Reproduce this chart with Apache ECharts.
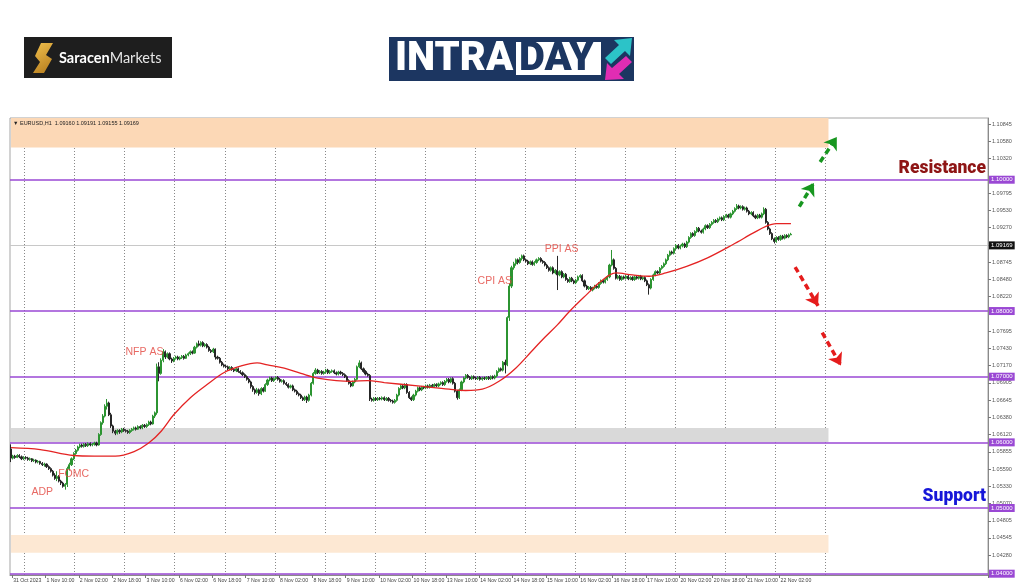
<!DOCTYPE html>
<html><head><meta charset="utf-8">
<script src="https://cdn.jsdelivr.net/npm/echarts@6/dist/echarts.min.js"></script>
<style>html,body{margin:0;padding:0;background:#fff}#c{width:1024px;height:587px}</style>
</head><body><div id="c"></div><script>
// ---------------- DATA ----------------
const headerText = '\u25BC EURUSD,H1  1.09160 1.09191 1.09155 1.09169';
const xTickLabels = ['31 Oct 2023','1 Nov 10:00','2 Nov 02:00','2 Nov 18:00','3 Nov 10:00','6 Nov 02:00','6 Nov 18:00','7 Nov 10:00','8 Nov 02:00','8 Nov 18:00','9 Nov 10:00','10 Nov 02:00','10 Nov 18:00','13 Nov 10:00','14 Nov 02:00','14 Nov 18:00','15 Nov 10:00','16 Nov 02:00','16 Nov 18:00','17 Nov 10:00','20 Nov 02:00','20 Nov 18:00','21 Nov 10:00','22 Nov 02:00'];
const yTickLabels = [1.10845,1.10580,1.10320,1.09795,1.09530,1.09270,1.09005,1.08745,1.08480,1.08220,1.07695,1.07430,1.07170,1.06905,1.06645,1.06380,1.06120,1.05855,1.05590,1.05330,1.05070,1.04805,1.04545,1.04280];
const levelLines = [1.10000,1.08000,1.07000,1.06000,1.05000,1.04000];
const lastPrice = 1.09169;
const resistanceLevel = 1.10000, supportLevel = 1.05000;
// hourly bars: [open, close, low, high] in pips above 1.0000
const barsPips = [
[590,576,570,597],[576,579,574,581],[579,577,575,581],[577,580,576,582],[580,578,576,582],[578,575,573,580],[575,577,573,579],[577,576,574,579],
[576,574,572,578],[574,575,572,577],[575,572,570,576],[572,573,570,575],[573,570,568,574],[570,571,568,573],[571,568,566,572],[568,566,564,570],
[566,567,563,569],[567,563,561,568],[563,560,558,565],[560,556,554,562],[556,550,548,558],[550,545,543,553],[545,548,541,556],[548,541,539,550],
[541,538,535,543],[538,533,531,540],[533,536,528,538],[536,560,532,563],[560,566,557,569],[566,575,564,577],[575,583,573,585],[583,588,581,590],
[588,593,586,595],[593,596,591,598],[596,594,592,598],[594,597,592,599],[597,595,593,599],[595,598,593,600],[598,596,594,600],[596,597,594,599],
[597,599,595,601],[599,596,594,601],[596,612,595,614],[612,630,610,632],[630,640,627,643],[640,655,638,658],[655,660,650,666],[660,642,640,662],
[642,625,622,645],[625,617,614,627],[617,614,611,619],[614,618,612,620],[618,616,613,620],[616,620,614,622],[620,618,616,622],[618,617,615,620],
[617,615,613,619],[615,618,613,620],[618,620,616,622],[620,622,618,624],[622,620,618,624],[620,624,619,626],[624,622,620,626],[622,626,620,628],
[626,624,622,628],[624,627,622,629],[627,631,625,633],[631,628,626,633],[628,640,627,642],[640,645,637,647],[645,715,642,720],[715,705,693,722],
[705,725,703,728],[725,738,722,742],[738,730,727,740],[730,735,728,737],[735,727,725,737],[727,724,721,729],[724,728,722,730],[728,730,726,732],
[730,727,725,732],[727,729,725,731],[729,731,727,733],[731,728,726,733],[728,733,727,735],[733,735,731,737],[735,738,733,740],[738,736,734,740],
[736,745,735,747],[745,750,743,752],[750,748,746,755],[748,752,746,754],[752,747,745,754],[747,749,745,751],[749,745,743,751],[745,740,738,747],
[740,738,736,742],[738,742,736,744],[742,730,726,743],[730,728,726,732],[728,722,720,730],[722,718,716,724],[718,716,714,720],[716,715,713,718],
[715,712,710,717],[712,714,710,716],[714,711,709,716],[711,709,707,713],[709,712,707,714],[712,708,706,714],[708,706,704,710],[706,703,701,708],
[703,700,698,705],[700,696,694,702],[696,692,690,698],[692,685,682,694],[685,680,677,687],[680,676,673,682],[676,680,674,683],[680,674,671,682],
[674,682,672,684],[682,678,676,684],[678,688,677,690],[688,695,686,697],[695,698,693,700],[698,694,692,700],[694,697,692,699],[697,699,695,701],
[699,696,694,701],[696,693,691,698],[693,694,691,696],[694,690,688,696],[690,688,686,692],[688,684,682,690],[684,686,682,688],[686,680,678,688],
[680,678,676,682],[678,674,672,680],[674,672,670,676],[672,668,666,674],[668,665,663,670],[665,669,663,671],[669,664,660,671],[664,672,662,674],
[672,690,670,692],[690,705,688,707],[705,710,703,713],[710,706,704,712],[706,708,704,710],[708,705,703,710],[705,707,703,709],[707,710,705,712],
[710,706,704,712],[706,708,704,710],[708,709,706,711],[709,706,704,711],[706,704,702,708],[704,707,702,709],[707,705,703,709],[705,703,701,707],
[703,700,698,705],[700,694,692,702],[694,690,688,696],[690,686,684,692],[686,692,685,694],[692,696,690,698],[696,715,694,717],[715,721,713,725],
[721,712,710,723],[712,708,706,714],[708,704,702,710],[704,702,700,706],[702,666,663,704],[666,664,662,668],[664,667,662,669],[667,665,663,669],
[665,667,663,669],[667,666,664,669],[666,668,664,670],[668,665,663,670],[665,667,663,669],[667,664,662,669],[664,663,661,666],[663,661,659,665],
[661,664,659,666],[664,672,662,674],[672,682,670,684],[682,686,680,688],[686,683,681,688],[683,688,681,690],[688,676,674,690],[676,668,666,678],
[668,665,663,670],[665,672,663,674],[672,678,670,680],[678,683,676,685],[683,680,678,685],[680,684,678,686],[684,683,681,686],[683,686,681,688],
[686,684,682,688],[684,687,682,689],[687,685,683,689],[685,688,683,690],[688,686,684,690],[686,689,684,691],[689,691,687,693],[691,688,686,693],
[688,693,686,695],[693,696,691,698],[696,692,690,698],[692,697,690,699],[697,690,688,699],[690,678,676,692],[678,668,665,680],[668,680,666,682],
[680,692,678,694],[692,698,690,700],[698,702,696,704],[702,699,697,704],[699,697,695,701],[697,700,695,702],[700,698,696,702],[698,697,695,700],
[697,699,695,701],[699,696,694,701],[696,698,694,700],[698,697,695,700],[697,699,695,701],[699,697,695,701],[697,700,695,702],[700,698,696,702],
[698,701,696,703],[701,708,699,710],[708,712,706,714],[712,710,708,714],[710,722,708,724],[722,718,705,726],[718,790,716,792],[790,838,785,842],
[838,866,835,869],[866,872,863,875],[872,878,869,880],[878,874,871,880],[874,880,872,882],[880,884,877,886],[884,878,876,886],[878,876,874,880],
[876,872,870,878],[872,875,870,877],[875,871,869,877],[871,874,869,876],[874,878,872,880],[878,880,876,882],[880,876,874,882],[876,874,872,878],
[874,870,868,876],[870,866,864,872],[866,862,860,868],[862,866,860,868],[866,858,856,868],[858,862,856,864],[862,855,832,884],[855,860,853,862],
[860,852,850,862],[852,856,850,858],[856,848,846,858],[848,845,843,850],[845,850,843,852],[850,846,844,852],[846,843,841,848],[843,847,841,849],
[847,852,845,854],[852,854,850,856],[854,846,844,856],[846,838,836,848],[838,834,832,840],[834,836,832,838],[836,832,830,838],[832,835,830,837],
[835,838,833,840],[838,836,834,840],[836,842,834,844],[842,846,840,848],[846,844,842,848],[844,848,842,850],[848,852,846,854],[852,870,850,872],
[870,878,868,893],[878,865,863,880],[865,850,848,867],[850,853,848,855],[853,848,846,855],[848,852,846,854],[852,850,848,854],[850,853,848,855],
[853,849,847,855],[849,851,847,853],[851,848,846,853],[848,852,846,854],[852,850,848,854],[850,853,848,855],[853,849,847,855],[849,851,847,853],
[851,846,844,853],[846,840,838,848],[840,835,825,842],[835,848,833,850],[848,855,846,857],[855,860,853,862],[860,858,856,862],[858,865,856,867],
[865,868,863,870],[868,872,866,874],[872,878,870,880],[878,885,876,887],[885,890,883,892],[890,888,886,892],[888,895,886,897],[895,900,893,902],
[900,896,894,902],[896,899,894,901],[899,902,897,904],[902,898,896,904],[898,905,896,907],[905,912,903,914],[912,918,910,920],[918,915,913,920],
[915,921,913,923],[921,926,919,928],[926,922,920,928],[922,920,918,924],[920,925,918,927],[925,930,923,932],[930,927,925,932],[927,932,925,934],
[932,935,930,937],[935,938,933,940],[938,936,934,940],[936,940,934,942],[940,942,938,944],[942,939,937,944],[939,944,937,946],[944,946,942,948],
[946,943,941,948],[943,948,941,950],[948,952,946,954],[952,956,950,958],[956,960,954,963],[960,957,955,962],[957,959,955,961],[959,955,953,961],
[955,957,953,959],[957,952,950,959],[952,948,946,954],[948,950,946,952],[950,945,943,952],[945,942,940,947],[942,946,940,948],[946,943,941,948],
[943,948,941,950],[948,955,946,958],[955,935,933,957],[935,925,923,937],[925,918,916,927],[918,910,908,920],[910,906,903,912],[906,912,904,914],
[912,909,907,914],[909,914,907,916],[914,911,909,916],[911,915,909,917],[915,913,911,917],[913,916,911,918],[916.0,916.9,915.5,919.1]
];
// moving average: [bar index, pips]
const maPoints = [[0,592],[14,589],[30,580],[40,579],[50,579],[59,586],[66,599],[72,617],[78,642],[86,668],[94,688],[102,706],[110,716],[118,721],[123,718],[131,713],[139,705],[147,698],[163,693],[171,694],[179,691],[195,686],[210,681],[218,679],[226,681],[234,693],[242,713],[250,740],[256,760],[262,779],[268,800],[276,825],[282,843],[290,858],[298,855],[306,853],[314,858],[324,868],[334,881],[346,901],[356,919],[362,929],[367,933],[374,933]];
const eventLabels = ['ADP','FOMC','NFP AS','CPI AS','PPI AS'];
const eventBars   = [15,30,64,232,264];
const eventPips   = [525,552,738,845,895];
// shaded zones [lowPips, highPips, colour]
const zones = [[1049,1094,'#fcd8b6'],[600,622,'#d9d9d9'],[432,459,'#fde8d3']];
const zoneEndBar = 392;
const arrowsUp   = [[[378,959],[385,995]],[[388,1027],[396,1065]]];
const arrowsDown = [[[376,867],[387,808]],[[389,767],[398,717]]];
const totalSlots = 469;
const yMin = 1.0398, yMax = 1.1094;

// ---------------- CHART ----------------
const P = p => +(1 + p / 10000).toFixed(5);
const cats = Array.from({length: totalSlots}, (_, i) => String(i));
const bars = barsPips.map(b => b.map(P));
const labelAt = i => i >= 1 && (i - 1) % 16 === 0 && (i - 1) / 16 < xTickLabels.length;
const purple = '#9a48d4';
const FONT = 'Liberation Sans';

const levelMarks = levelLines.map(v => ({
  yAxis: v,
  lineStyle: {color: purple, width: 1.6, type: 'solid'},
  label: {show: true, position: 'end', distance: 1, formatter: v.toFixed(5), color: '#fff', backgroundColor: purple,
          fontSize: 6, fontFamily: FONT, padding: [1, 2, 1, 2]}
}));
levelMarks.push({
  yAxis: lastPrice, lineStyle: {color: '#c8c8c8', width: 1, type: 'solid'},
  label: {show: true, position: 'end', distance: 1, formatter: lastPrice.toFixed(5), color: '#fff', backgroundColor: '#111',
          fontSize: 6, fontFamily: FONT, padding: [1, 2, 1, 2]}
});
levelMarks.push({
  yAxis: resistanceLevel, lineStyle: {color: 'rgba(0,0,0,0)', width: 0},
  label: {show: true, position: 'insideEndTop', distance: 2, formatter: 'Resistance', color: '#8e1515',
          fontSize: 17.5, fontWeight: 900, fontFamily: 'Roboto'}
});
levelMarks.push({
  yAxis: supportLevel, lineStyle: {color: 'rgba(0,0,0,0)', width: 0},
  label: {show: true, position: 'insideEndTop', distance: 2, formatter: 'Support', color: '#1616d8',
          fontSize: 17.5, fontWeight: 900, fontFamily: 'Roboto'}
});

const arrowMarks = [];
arrowsUp.forEach(a => arrowMarks.push([{coord: [a[0][0], P(a[0][1])], lineStyle: {color: '#17961f', width: 3.5, type: [6, 4]}, itemStyle: {color: '#17961f'}}, {coord: [a[1][0], P(a[1][1])]}]));
arrowsDown.forEach(a => arrowMarks.push([{coord: [a[0][0], P(a[0][1])], lineStyle: {color: '#e51c1c', width: 3.5, type: [6, 4]}, itemStyle: {color: '#e51c1c'}}, {coord: [a[1][0], P(a[1][1])]}]));

const chart = echarts.init(document.getElementById('c'), null, {renderer: 'canvas'});
chart.setOption({
  animation: false,
  backgroundColor: '#fff',
  grid: {left: 10, right: 36, top: 118, bottom: 12, show: true, borderColor: '#a5a5a5', borderWidth: 1, backgroundColor: '#fff'},
  xAxis: {
    type: 'category', data: cats, boundaryGap: true,
    axisLine: {show: true, lineStyle: {color: '#8a8a8a'}},
    axisTick: {show: true, interval: (i) => labelAt(i), length: 3, lineStyle: {color: '#777'}},
    axisLabel: {interval: (i) => labelAt(i), formatter: (v) => xTickLabels[(Number(v) - 1) / 16] || '',
                fontSize: 5.2, color: '#444', align: 'left', margin: 3, fontFamily: FONT},
    splitLine: {show: true, interval: (i) => i >= 7 && (i - 7) % 24 === 0 && i <= zoneEndBar,
                lineStyle: {color: '#888', width: 1, type: [1, 2]}}
  },
  yAxis: {
    type: 'value', position: 'right', min: yMin, max: yMax,
    axisLine: {show: true, lineStyle: {color: '#8a8a8a'}},
    axisTick: {show: true, customValues: yTickLabels, length: 3, lineStyle: {color: '#777'}},
    axisLabel: {customValues: yTickLabels, formatter: v => v.toFixed(5), fontSize: 5.5, color: '#555', margin: 4, fontFamily: FONT},
    splitLine: {show: false}
  },
  graphic: [
    {type: 'text', left: 13, top: 120, z: 100, style: {text: headerText, fontSize: 5.5, fill: '#222', fontFamily: FONT}},
    // Saracen Markets logo
    {type: 'rect', shape: {x: 24, y: 37, width: 148, height: 41}, style: {fill: '#1e1e1e'}},
    {type: 'polygon', shape: {points: [[41,43],[53,43],[46,55],[52,59],[44,73],[33,73],[40,62],[35,56]]},
     style: {fill: new echarts.graphic.LinearGradient(0, 0, 1, 1, [{offset: 0, color: '#f2c14e'}, {offset: 1, color: '#b37a1c'}])}},
    {type: 'text', x: 59, y: 58, style: {text: '{b|Saracen}{n|Markets}', verticalAlign: 'middle', fill: '#fff',
      rich: {b: {fontFamily: 'Lato', fontWeight: 'bold', fontSize: 14.5, fill: '#fff'}, n: {fontFamily: 'Lato', fontSize: 14.5, fill: '#e6e6e6'}}}},
    // INTRADAY logo
    {type: 'rect', shape: {x: 389, y: 37, width: 245, height: 44}, style: {fill: '#1c3661'}},
    {type: 'rect', shape: {x: 516, y: 42, width: 85, height: 33}, style: {fill: '#ffffff'}},
    {type: 'text', x: 395, y: 60, style: {text: 'INTRA', fill: '#fff', fontFamily: 'Roboto', fontWeight: 900, fontSize: 40, verticalAlign: 'middle'}},
    {type: 'text', x: 519, y: 60, style: {text: 'DAY', fill: '#1c3661', fontFamily: 'Roboto', fontWeight: 900, fontSize: 40, verticalAlign: 'middle'}},
    {type: 'polygon', shape: {points: [[605,58],[619,45],[614,40],[632,38],[630,56],[625,51],[611,64]]}, style: {fill: '#2cc3c8'}},
    {type: 'polygon', shape: {points: [[632,62],[619,74],[624,79],[605,80],[607,63],[612,68],[626,56]]}, style: {fill: '#e02db3'}}
  ],
  series: [
    {
      type: 'candlestick', data: bars, barWidth: 1.6, z: 3,
      itemStyle: {color: '#2c9431', color0: '#262626', borderColor: '#2c9431', borderColor0: '#262626', borderWidth: 1},
      markArea: {silent: true, z: 1, data: zones.map(z => [
        {xAxis: 0, yAxis: P(z[0]), itemStyle: {color: z[2]}},
        {xAxis: zoneEndBar, yAxis: Math.min(P(z[1]), yMax)}
      ])},
      markLine: {silent: true, symbol: 'none', z: 2, data: levelMarks}
    },
    {
      type: 'line', data: maPoints.map(p => [p[0], P(p[1])]), smooth: 0.35, showSymbol: false, z: 4,
      lineStyle: {color: '#e42323', width: 1.3},
      markLine: {silent: true, symbol: ['none', 'arrow'], symbolSize: 12, z: 5, label: {show: false}, data: arrowMarks}
    },
    {
      type: 'scatter', symbolSize: 0, z: 6,
      data: eventBars.map((b, i) => [b, P(eventPips[i])]),
      label: {show: true, position: 'inside', formatter: p => eventLabels[p.dataIndex], color: '#e2443c', fontSize: 10.5, fontFamily: FONT}
    }
  ]
});
</script></body></html>
